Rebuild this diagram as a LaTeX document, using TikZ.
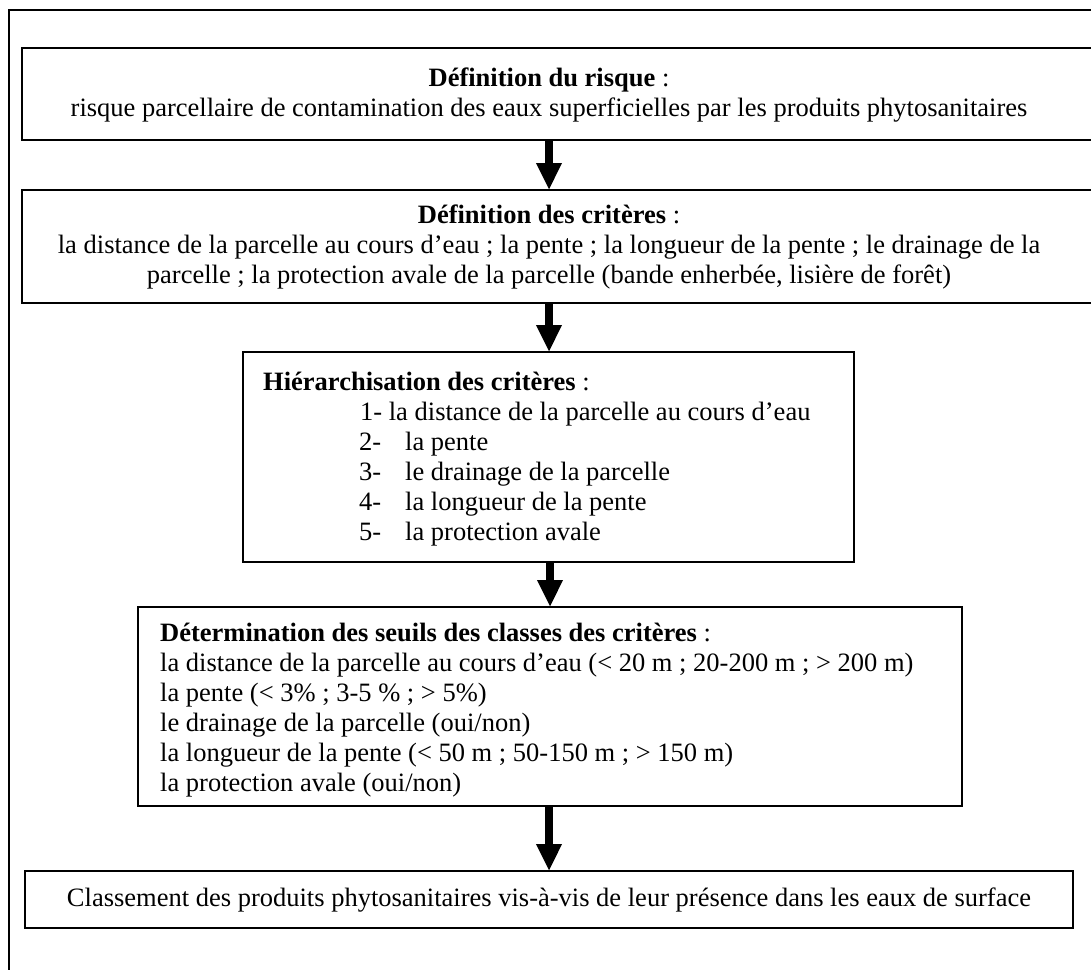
\documentclass[tikz,border=0pt]{standalone}
\usepackage{fontspec}
\setmainfont{Liberation Serif}
\usetikzlibrary{arrows.meta}
\begin{document}
\begin{tikzpicture}[x=1pt,y=-1pt,
  frame/.style={draw, line width=1.8pt, inner sep=0pt, outer sep=0pt},
  txt/.style={font=\fontsize{26.5}{30}\selectfont, inner sep=0pt},
  flow/.style={line width=8pt, -{Triangle[width=24pt,length=27pt]}}]
\useasboundingbox (0,0) rectangle (1091,969);
\clip (0,0) rectangle (1091,969);
\draw[line width=1.8pt] (1100,10) -- (9,10) -- (9,980);
% boxes
\node[frame, anchor=north west, minimum width=1090pt, minimum height=92pt] (b1) at (22,48) {};
\node[frame, anchor=north west, minimum width=1090pt, minimum height=113pt] (b2) at (22,190) {};
\node[frame, anchor=north west, minimum width=611pt, minimum height=210pt] (b3) at (243,352) {};
\node[frame, anchor=north west, minimum width=824pt, minimum height=199pt] (b4) at (138,607) {};
\node[frame, anchor=north west, minimum width=1048pt, minimum height=57pt] (b5) at (25,871) {};
% texts
\node[txt, align=center] (t1) at (549,95) {\textbf{Définition du risque} :\\risque parcellaire de contamination des eaux superficielles par les produits phytosanitaires};
\node[txt, align=center] (t2) at (549,247) {\textbf{Définition des critères} :\\la distance de la parcelle au cours d’eau ; la pente ; la longueur de la pente ; le drainage de la\\parcelle ; la protection avale de la parcelle (bande enherbée, lisière de forêt)};
\node[txt, align=left, anchor=west] (t3) at (263,459) {\textbf{Hiérarchisation des critères} :\\
\hspace*{97pt}1- la distance de la parcelle au cours d’eau\\
\hspace*{96pt}\makebox[46pt][l]{2-}la pente\\
\hspace*{96pt}\makebox[46pt][l]{3-}le drainage de la parcelle\\
\hspace*{96pt}\makebox[46pt][l]{4-}la longueur de la pente\\
\hspace*{96pt}\makebox[46pt][l]{5-}la protection avale};
\node[txt, align=left, anchor=west] (t4) at (160,710) {\textbf{Détermination des seuils des classes des critères} :\\
la distance de la parcelle au cours d’eau (< 20 m ; 20-200 m ; > 200 m)\\
la pente (< 3\% ; 3-5 \% ; > 5\%)\\
le drainage de la parcelle (oui/non)\\
la longueur de la pente (< 50 m ; 50-150 m ; > 150 m)\\
la protection avale (oui/non)};
\node[txt] (t5) at (549,900) {Classement des produits phytosanitaires vis-à-vis de leur présence dans les eaux de surface};
% arrows
\coordinate (ax) at (549,0);
\draw[flow] (ax |- b1.south) -- (ax |- b2.north);
\draw[flow] (ax |- b2.south) -- (ax |- b3.north);
\coordinate (ax3) at (550,0);
\draw[flow] (ax3 |- b3.south) -- (ax3 |- b4.north);
\draw[flow] (ax |- b4.south) -- (ax |- b5.north);
\end{tikzpicture}
\end{document}
